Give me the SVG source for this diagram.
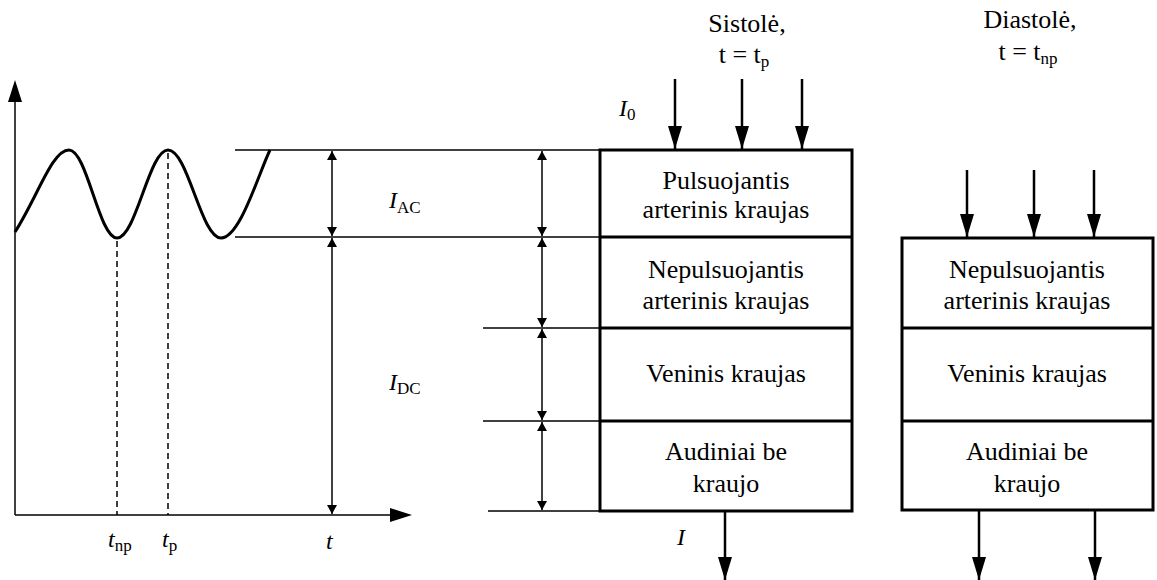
<svg xmlns="http://www.w3.org/2000/svg" width="1157" height="580" viewBox="0 0 1157 580">
<style>
.box{fill:#fff;stroke:#000;stroke-width:3}
.div{stroke:#000;stroke-width:3}
.thin{stroke:#000;stroke-width:1.5;fill:none}
.dim{stroke:#000;stroke-width:1.5;fill:none;marker-start:url(#ds);marker-end:url(#de)}
.big{stroke:#000;stroke-width:2.5;fill:none;marker-end:url(#bh)}
.dash{stroke:#000;stroke-width:1.5;stroke-dasharray:6 4;fill:none}
.t{font-family:'Liberation Serif','Times New Roman','DejaVu Serif',serif;font-size:26px;fill:#000;text-anchor:middle}
.m{font-family:'Liberation Serif','Times New Roman','DejaVu Serif',serif;font-style:italic;font-size:24px;fill:#000}
.s{font-family:'Liberation Serif','Times New Roman','DejaVu Serif',serif;font-style:normal;font-size:17px;fill:#000}
</style>
<defs>
<marker id="de" markerUnits="userSpaceOnUse" markerWidth="10" markerHeight="14" refX="9" refY="5" orient="auto"><path d="M0,0 L9,5 L0,10 Z" fill="#000"/></marker>
<marker id="ds" markerUnits="userSpaceOnUse" markerWidth="10" markerHeight="14" refX="0" refY="5" orient="auto"><path d="M9,0 L0,5 L9,10 Z" fill="#000"/></marker>
<marker id="bh" markerUnits="userSpaceOnUse" markerWidth="24" markerHeight="14" refX="23" refY="7" orient="auto"><path d="M0,0 L23,7 L0,14 Z" fill="#000"/></marker>
</defs>

<g id="graph">
<line class="thin" x1="15" y1="515" x2="15" y2="100"/>
<path d="M15,80 L8,102 L22,102 Z" fill="#000"/>
<line class="thin" x1="15" y1="515" x2="392" y2="515"/>
<path d="M412,515 L390,508 L390,522 Z" fill="#000"/>
<path d="M15,232 C38,196 52,150 69,150 C87,150 99,238 117,238 C136,238 149,150 168,150 C188,150 201,238 221,238 C240,238 258,175 270,150" fill="none" stroke="#000" stroke-width="3"/>
<line class="dash" x1="117" y1="241" x2="117" y2="515"/>
<line class="dash" x1="168" y1="153" x2="168" y2="515"/>
<text class="m" x="108" y="547">t<tspan class="s" dy="4">np</tspan></text>
<text class="m" x="162" y="547">t<tspan class="s" dy="4">p</tspan></text>
<text class="m" x="326" y="549">t</text>
</g>

<g id="levels">
<line class="thin" x1="235" y1="150" x2="600" y2="150"/>
<line class="thin" x1="235" y1="237" x2="600" y2="237"/>
<line class="thin" x1="483" y1="328" x2="600" y2="328"/>
<line class="thin" x1="483" y1="421" x2="600" y2="421"/>
<line class="thin" x1="488" y1="511" x2="600" y2="511"/>
</g>

<g id="connectors">
<line class="dim" x1="332" y1="151" x2="332" y2="236"/>
<line class="dim" x1="332" y1="238" x2="332" y2="514"/>
<line class="dim" x1="542" y1="151" x2="542" y2="236"/>
<line class="dim" x1="542" y1="238" x2="542" y2="327"/>
<line class="dim" x1="542" y1="329" x2="542" y2="420"/>
<line class="dim" x1="542" y1="422" x2="542" y2="510"/>
<line class="big" x1="675" y1="79" x2="675" y2="149"/>
<line class="big" x1="742" y1="79" x2="742" y2="149"/>
<line class="big" x1="802" y1="79" x2="802" y2="149"/>
<line class="big" x1="967" y1="170" x2="967" y2="237"/>
<line class="big" x1="1034" y1="170" x2="1034" y2="237"/>
<line class="big" x1="1094" y1="170" x2="1094" y2="237"/>
<line class="big" x1="725" y1="512" x2="725" y2="580"/>
<line class="big" x1="979" y1="511" x2="979" y2="580"/>
<line class="big" x1="1095" y1="511" x2="1095" y2="580"/>
</g>

<g id="labels">
<text class="m" x="389" y="208">I<tspan class="s" dy="5">AC</tspan></text>
<text class="m" x="389" y="390">I<tspan class="s" dy="4">DC</tspan></text>
<text class="m" x="619" y="116">I<tspan class="s" dy="4">0</tspan></text>
<text class="m" x="677" y="545">I</text>
<text class="t" x="747" y="32">Sistolė,</text>
<text class="t" x="744" y="63">t = t<tspan font-size="17" dy="4">p</tspan></text>
<text class="t" x="1030" y="28">Diastolė,</text>
<text class="t" x="1028" y="60">t = t<tspan font-size="17" dy="4">np</tspan></text>
</g>

<g id="systole-box">
<rect class="box" x="600" y="150" width="252" height="361"/>
<line class="div" x1="600" y1="237" x2="852" y2="237"/>
<line class="div" x1="600" y1="328" x2="852" y2="328"/>
<line class="div" x1="600" y1="421" x2="852" y2="421"/>
<text class="t" x="726" y="189">Pulsuojantis</text>
<text class="t" x="726" y="218">arterinis kraujas</text>
<text class="t" x="726" y="278">Nepulsuojantis</text>
<text class="t" x="726" y="309">arterinis kraujas</text>
<text class="t" x="726" y="382">Veninis kraujas</text>
<text class="t" x="726" y="460">Audiniai be</text>
<text class="t" x="726" y="492">kraujo</text>
</g>

<g id="diastole-box">
<rect class="box" x="902" y="238" width="251" height="272"/>
<line class="div" x1="902" y1="328" x2="1153" y2="328"/>
<line class="div" x1="902" y1="421" x2="1153" y2="421"/>
<text class="t" x="1027" y="278">Nepulsuojantis</text>
<text class="t" x="1027" y="309">arterinis kraujas</text>
<text class="t" x="1027" y="382">Veninis kraujas</text>
<text class="t" x="1027" y="460">Audiniai be</text>
<text class="t" x="1027" y="492">kraujo</text>
</g>
</svg>
